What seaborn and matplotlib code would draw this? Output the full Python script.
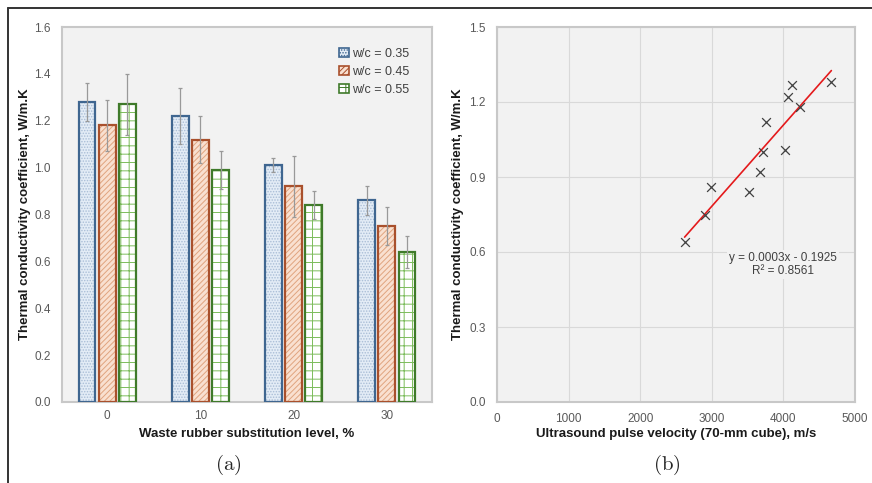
import numpy as np
import pandas as pd
import seaborn as sns
import matplotlib.pyplot as plt
from matplotlib.lines import Line2D
from matplotlib.patches import Rectangle

# data
levels = [0, 10, 20, 30]
wc_labels = ['w/c = 0.35', 'w/c = 0.45', 'w/c = 0.55']
wc35 = [1.28, 1.22, 1.01, 0.86]
wc45 = [1.18, 1.12, 0.92, 0.75]
wc55 = [1.27, 0.99, 0.84, 0.64]
err35 = [0.08, 0.12, 0.03, 0.06]
err45 = [0.11, 0.10, 0.13, 0.08]
err55 = [0.13, 0.08, 0.06, 0.07]

upv = [2620, 2910, 2990, 3520, 3680, 3715, 3755, 4020, 4065, 4120, 4225, 4670]
tc = [0.64, 0.75, 0.86, 0.84, 0.92, 1.00, 1.12, 1.01, 1.22, 1.27, 1.18, 1.28]
eq_text = 'y = 0.0003x - 0.1925\nR² = 0.8561'

sns.set_theme(style='white')
plt.rcParams['font.family'] = ['Liberation Sans', 'DejaVu Sans']
plt.rcParams['mathtext.fontset'] = 'cm'
plt.rcParams['hatch.linewidth'] = 0.7

bg = '#f2f2f2'
spine_c = '#c8c8c8'
tick_c = '#595959'

fig = plt.figure(figsize=(8.72, 4.83), dpi=100)
ax1 = fig.add_axes([62 / 872, 1 - 402 / 483, 370 / 872, 375 / 483])
ax2 = fig.add_axes([497 / 872, 1 - 402 / 483, 358 / 872, 375 / 483])

# ---- (a) bar chart
df = pd.DataFrame({
    'level': levels * 3,
    'tc': wc35 + wc45 + wc55,
    'wc': [wc_labels[0]] * 4 + [wc_labels[1]] * 4 + [wc_labels[2]] * 4,
})
sns.barplot(data=df, x='level', y='tc', hue='wc', ax=ax1, width=0.65, gap=0.18,
            errorbar=None, legend=False)

faces = ['#e3ecf6', '#f9e0d0', '#ffffff']
edges = ['#3f6690', '#a9502c', '#3f7a2a']
hatch_cols = ['#a9bdd6', '#e0a47f', '#7cbc5b']
hatches = ['......', '//////', '++']
errs = [err35, err45, err55]
bar_conts = list(ax1.containers)
for i, cont in enumerate(bar_conts):
    for p in cont.patches:
        # hatch drawn in a lighter colour, outline added on top
        p.set_facecolor(faces[i])
        p.set_edgecolor(hatch_cols[i])
        p.set_linewidth(0)
        p.set_hatch(hatches[i])
        ax1.add_patch(Rectangle(p.get_xy(), p.get_width(), p.get_height(),
                                fill=False, edgecolor=edges[i], lw=1.6, zorder=3))
    xs = [p.get_x() + p.get_width() / 2 for p in cont.patches]
    ys = [p.get_height() for p in cont.patches]
    ax1.errorbar(xs, ys, yerr=errs[i], fmt='none', ecolor='#999999',
                 elinewidth=0.9, capsize=1.5, capthick=0.9, zorder=5)

ax1.set_ylim(0, 1.6)
ax1.set_yticks(np.arange(0, 1.61, 0.2))
ax1.set_yticklabels([f'{v:.1f}' for v in np.arange(0, 1.61, 0.2)])
ax1.set_xticks(np.arange(len(levels)), [str(v) for v in levels])
ax1.set_xticks(np.arange(len(levels) - 1) + 0.5, minor=True)
ax1.tick_params(axis='x', which='major', length=0, pad=6)
ax1.tick_params(axis='x', which='minor', length=3, direction='in', color=spine_c)
ax1.tick_params(axis='y', length=3, direction='in', color=spine_c, pad=8)

leg_handles = [Rectangle((0, 0), 1, 1, facecolor=faces[i], edgecolor=edges[i],
                         hatch=hatches[i], lw=1.2) for i in range(3)]
ax1.legend(handles=leg_handles, labels=wc_labels,
           loc='upper right', bbox_to_anchor=(0.97, 0.975), frameon=False,
           fontsize=9, handlelength=0.75, handleheight=0.75,
           handletextpad=0.3, labelspacing=0.5, labelcolor='#404040')
ax1.set_xlabel('Waste rubber substitution level, %', fontsize=9.5,
               fontweight='bold', color='#1a1a1a')
ax1.set_ylabel('Thermal conductivity coefficient, W/m.K', fontsize=9.5,
               fontweight='bold', color='#1a1a1a')
ax1.xaxis.set_label_coords(0.5, -0.07)
ax1.yaxis.set_label_coords(-0.085, 0.5)

# ---- (b) scatter with linear trend
sns.scatterplot(x=upv, y=tc, ax=ax2, marker='x', color='#404040', s=40,
                linewidth=0.9, zorder=4)
sns.regplot(x=upv, y=tc, ax=ax2, scatter=False, ci=None, truncate=True,
            line_kws={'color': '#e41a1c', 'lw': 1.2, 'zorder': 3})
ax2.set_xlim(0, 5000)
ax2.set_ylim(0, 1.5)
ax2.set_xticks(np.arange(0, 5001, 1000))
ax2.set_yticks(np.arange(0, 1.51, 0.3))
ax2.set_yticklabels([f'{v:.1f}' for v in np.arange(0, 1.51, 0.3)])
ax2.grid(True, color='#d9d9d9', linewidth=0.8)
ax2.set_axisbelow(True)
ax2.tick_params(length=0, pad=8)
ax2.text(4000, 0.55, eq_text, ha='center', va='center', fontsize=8.5,
         color='#404040', linespacing=1.0,
         bbox=dict(facecolor=bg, edgecolor='none', pad=1.5))
ax2.set_xlabel('Ultrasound pulse velocity (70-mm cube), m/s', fontsize=9.5,
               fontweight='bold', color='#1a1a1a')
ax2.set_ylabel('Thermal conductivity coefficient, W/m.K', fontsize=9.5,
               fontweight='bold', color='#1a1a1a')
ax2.xaxis.set_label_coords(0.5, -0.07)
ax2.yaxis.set_label_coords(-0.092, 0.5)

for ax in (ax1, ax2):
    ax.set_facecolor(bg)
    for s in ax.spines.values():
        s.set_visible(True)
        s.set_color(spine_c)
        s.set_linewidth(1.5)
    ax.tick_params(labelsize=8.5, labelcolor=tick_c)

# panel labels
fig.text(228 / 872, 1 - 465 / 483, r'$\mathrm{(a)}$', ha='center', va='center', fontsize=15)
fig.text(667 / 872, 1 - 465 / 483, r'$\mathrm{(b)}$', ha='center', va='center', fontsize=15)

# outer frame (top and left edges visible)
fig.add_artist(Line2D([8 / 872, 1.0], [1 - 8 / 483, 1 - 8 / 483],
                      transform=fig.transFigure, color='#333333', lw=1.4))
fig.add_artist(Line2D([8 / 872, 8 / 872], [0.0, 1 - 8 / 483],
                      transform=fig.transFigure, color='#333333', lw=1.4))

fig.savefig('out.png', dpi=100)
